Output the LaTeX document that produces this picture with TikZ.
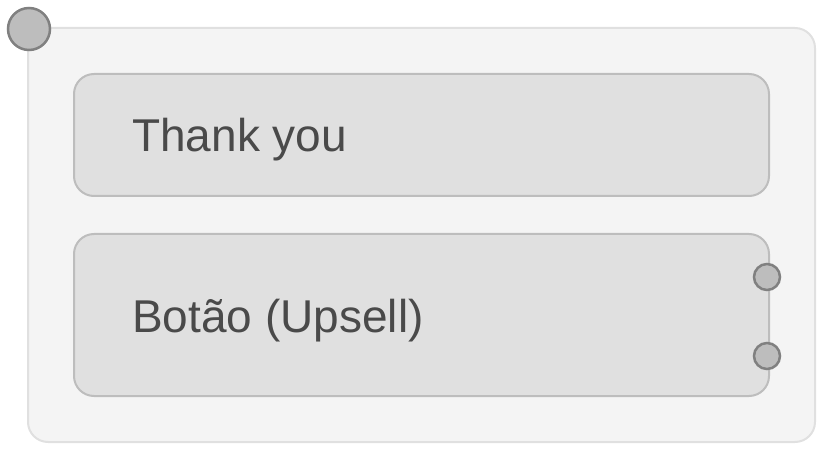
\documentclass[tikz,border=0pt]{standalone}
\usepackage{fontspec}
\setmainfont{Liberation Sans}
\definecolor{outerfill}{HTML}{F4F4F4}
\definecolor{outerline}{HTML}{E0E0E0}
\definecolor{boxfill}{HTML}{E0E0E0}
\definecolor{boxline}{HTML}{BDBDBD}
\definecolor{dotfill}{HTML}{BDBDBD}
\definecolor{dotline}{HTML}{808080}
\definecolor{txt}{HTML}{4A4A4A}
\begin{document}
\begin{tikzpicture}[x=1pt,y=-1pt,
  outer/.style={draw=outerline,fill=outerfill,line width=2pt,rounded corners=20pt},
  inner/.style={draw=boxline,fill=boxfill,line width=2pt,rounded corners=20pt},
  dot/.style={circle,draw=dotline,fill=dotfill,line width=2.5pt,inner sep=0pt},
  lbl/.style={anchor=base west,text=txt,font=\fontsize{46}{50}\selectfont,inner sep=0pt}]
\useasboundingbox (0,0) rectangle (830,462);
\draw[outer] (28,28) rectangle (815,442);
\draw[inner] (74,74) rectangle (769,196);
\draw[inner] (74,234) rectangle (769,396);
\node[lbl] (t1) at (132,152) {Thank you};
\node[lbl] (t2) at (132,332) {Botão (Upsell)};
\node[dot,minimum size=42pt] (d0) at (29,29) {};
\node[dot,minimum size=26pt] (d1) at (767,277) {};
\node[dot,minimum size=26pt] (d2) at (767,356) {};
\end{tikzpicture}
\end{document}
